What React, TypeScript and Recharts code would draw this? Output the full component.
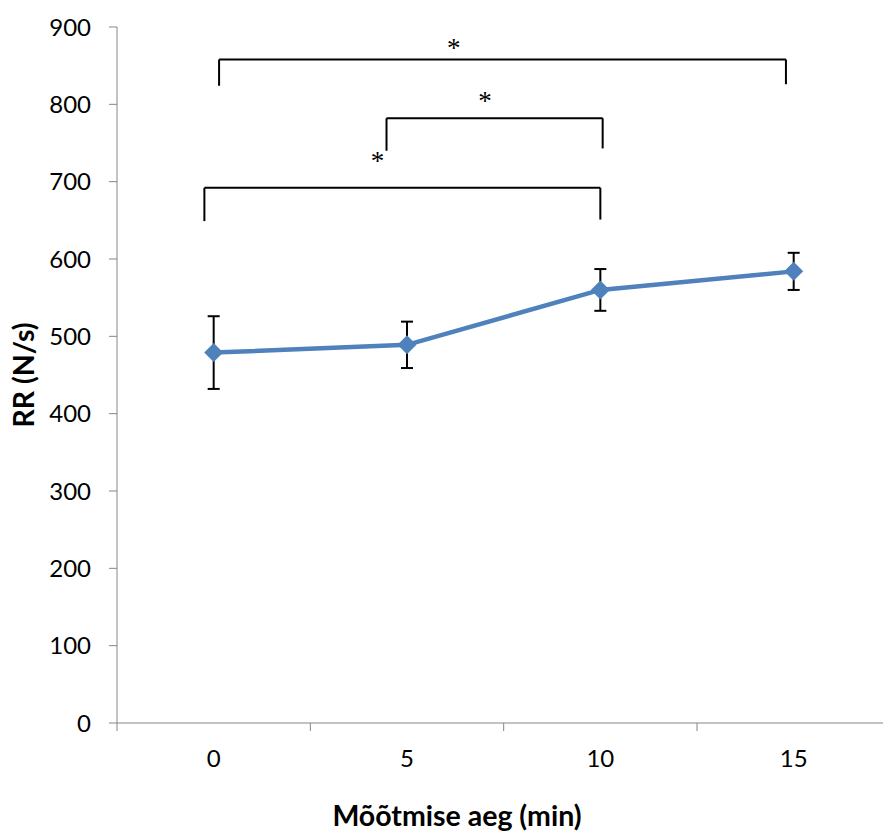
import React from "react";
import { LineChart, Line, XAxis, YAxis, ErrorBar, ReferenceLine, ReferenceDot, Label } from "recharts";

// measurement time (min) and RR (N/s) with error bar half-lengths
const times = [0, 5, 10, 15];
const rrMean = [479, 489, 560, 584];
const rrError = [47, 30, 27, 24];
const yTicks = [0, 100, 200, 300, 400, 500, 600, 700, 800, 900];

// significance brackets (data units)
const bracketLeftX = [0.14, 4.47, -0.24];
const bracketRightX = [14.8, 10.06, 10.0];
const bracketTopY = [858, 782, 692];
const bracketLeftEndY = [824, 740, 649];
const bracketRightEndY = [826, 743, 651];
const starX = [6.21, 7.02, 4.24];
const starY = [877, 808, 730];

const FONT = "Lato, 'Noto Sans', sans-serif";
const AXIS_COLOR = "#868686";
const BLUE = "#4F81BD";

const chartData = times.map((t, i) => ({ time: t, rr: rrMean[i], err: rrError[i] }));
const boundaries = times.map((t) => t - 2.5);
const xTicks = [...boundaries, ...times].sort((a, b) => a - b);

function TimeTick(props: any) {
    const { x, y, payload } = props;
    const v = payload.value;
    if (times.includes(v)) {
        return (
            <text x={x} y={y + 44} textAnchor="middle" fontSize={24} fontFamily={FONT} fill="#000">
                {v}
            </text>
        );
    }
    return <line x1={x} y1={y} x2={x} y2={y + 8} stroke={AXIS_COLOR} strokeWidth={1} />;
}

function Diamond(props: any) {
    const { cx, cy } = props;
    if (cx == null || cy == null) return null;
    const s = 9.5;
    return <polygon points={`${cx},${cy - s} ${cx + s},${cy} ${cx},${cy + s} ${cx - s},${cy}`} fill={BLUE} />;
}

function Star(props: any) {
    const { cx, cy } = props;
    return (
        <text x={cx} y={cy + 12} textAnchor="middle" fontSize={27} fontFamily="'Liberation Serif', serif" fill="#000">
            *
        </text>
    );
}

export default function App() {
    const brackets = bracketLeftX.map((lx, i) => ({
        lx,
        rx: bracketRightX[i],
        top: bracketTopY[i],
        le: bracketLeftEndY[i],
        re: bracketRightEndY[i],
    }));
    return (
        <div style={{ position: "absolute", left: 0, top: 0 }}>
            <LineChart width={883} height={833} data={chartData} margin={{ top: 27, right: 0, bottom: 0, left: 0 }}>
                <XAxis
                    dataKey="time"
                    type="number"
                    domain={[-2.5, 17.31]}
                    ticks={xTicks}
                    interval={0}
                    tick={<TimeTick />}
                    tickLine={false}
                    tickSize={0}
                    tickMargin={0}
                    height={110}
                    stroke={AXIS_COLOR}
                    allowDataOverflow
                >
                    <Label
                        value="Mõõtmise aeg (min)"
                        position="insideBottom"
                        offset={0}
                        dx={-43}
                        dy={-7}
                        fontSize={28.5}
                        fontWeight="bold"
                        fontFamily={FONT}
                        fill="#000"
                    />
                </XAxis>
                <YAxis
                    domain={[0, 900]}
                    ticks={yTicks}
                    interval={0}
                    width={117}
                    tickSize={8}
                    tickMargin={18}
                    stroke={AXIS_COLOR}
                    tick={{ fill: "#000", fontSize: 24, fontFamily: FONT }}
                >
                    <Label
                        value="RR (N/s)"
                        angle={-90}
                        position="insideLeft"
                        offset={24}
                        textAnchor="middle"
                        fontSize={28.5}
                        fontWeight="bold"
                        fontFamily={FONT}
                        fill="#000"
                    />
                </YAxis>
                {brackets.map((b, i) => (
                    <ReferenceLine
                        key={`bl${i}`}
                        segment={[{ x: b.lx, y: b.le }, { x: b.lx, y: b.top }]}
                        stroke="#000"
                        strokeWidth={2}
                    />
                ))}
                {brackets.map((b, i) => (
                    <ReferenceLine
                        key={`bt${i}`}
                        segment={[{ x: b.lx, y: b.top }, { x: b.rx, y: b.top }]}
                        stroke="#000"
                        strokeWidth={2}
                    />
                ))}
                {brackets.map((b, i) => (
                    <ReferenceLine
                        key={`br${i}`}
                        segment={[{ x: b.rx, y: b.top }, { x: b.rx, y: b.re }]}
                        stroke="#000"
                        strokeWidth={2}
                    />
                ))}
                {starX.map((sx, i) => (
                    <ReferenceDot key={`s${i}`} x={sx} y={starY[i]} r={0} shape={<Star />} />
                ))}
                <Line
                    dataKey="rr"
                    stroke={BLUE}
                    strokeWidth={4.5}
                    dot={<Diamond />}
                    activeDot={false}
                    isAnimationActive={false}
                >
                    <ErrorBar dataKey="err" width={6} stroke="#000" strokeWidth={2} />
                </Line>
            </LineChart>
        </div>
    );
}
